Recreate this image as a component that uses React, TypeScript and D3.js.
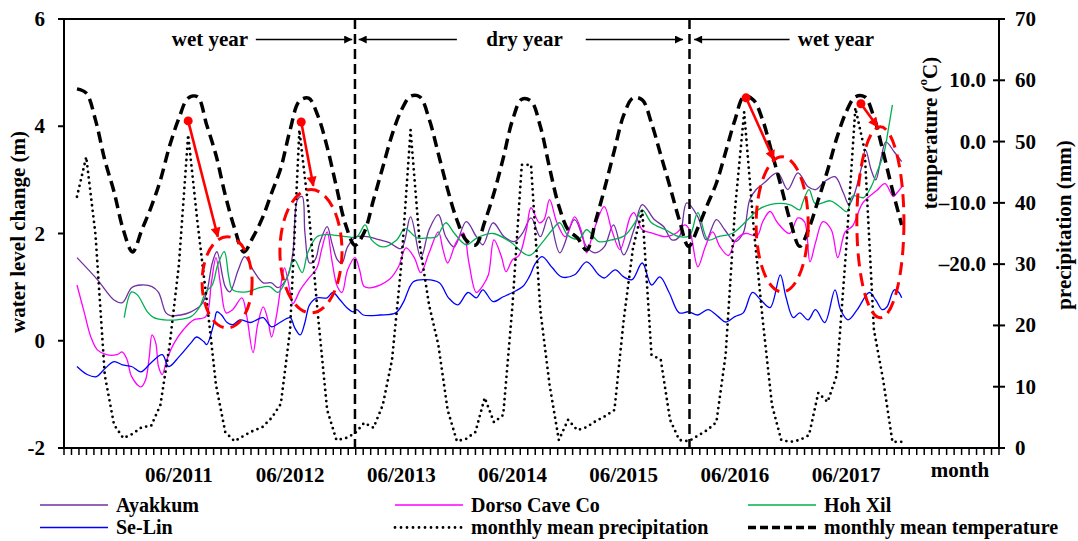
import React from "react";
import * as d3 from "d3";

const W = 1078;
const H = 541;
const M = { left: 64, right: 999, top: 19, bottom: 448 };
const FONT = '"Liberation Serif", "Times New Roman", serif';
const FS = 21;
const LEGEND_FS = 20;

// month index 0 = 07/2010
const monthLabels = ["06/2011", "06/2012", "06/2013", "06/2014", "06/2015", "06/2016", "06/2017"];
const monthLabelIdx = [11, 23, 35, 47, 59, 71, 83];
const levelTicks = [6, 4, 2, 0, -2];
const tempTicks = [10, 0, -10, -20];
const tempTickLabels = ["10.0", "0.0", "\u201310.0", "\u201320.0"];
const precipTicks = [0, 10, 20, 30, 40, 50, 60, 70];

const temperature = [
  8.6, 7.9, 3.5, -3.0, -8.2, -14.4, -18.0, -14.4, -10.7, -6.3,
  -0.7, 3.8, 7.1, 7.3, 2.7, -2.2, -8.7, -14.1, -18.0, -15.6,
  -12.5, -8.4, -4.3, 1.9, 6.6, 7.1, 4.2, -0.9, -7.4, -13.6,
  -16.9, -14.8, -9.5, -4.2, 1.1, 5.1, 7.4, 7.3, 3.7, -2.0,
  -7.8, -12.8, -16.1, -16.9, -13.1, -8.4, -2.7, 3.5, 6.9, 6.6,
  2.5, -4.3, -10.5, -14.4, -15.7, -17.7, -12.8, -7.3, -1.4, 4.3,
  7.1, 6.8, 3.0, -2.2, -7.4, -12.8, -17.1, -14.1, -10.4, -6.8,
  -1.7, 3.5, 7.4, 6.8, 3.5, -1.9, -7.4, -13.1, -17.1, -14.1,
  -9.5, -4.7, 0.6, 4.8, 7.3, 7.3, 4.0, -1.7, -7.9, -13.6,
];

const precipitation = [
  41.0, 47.5, 34.8, 11.9, 3.8, 1.6, 2.3, 3.4, 3.6, 7.0,
  16.8, 29.9, 51.1, 36.9, 24.1, 10.3, 2.6, 1.1, 2.0, 2.8,
  3.4, 4.9, 7.2, 19.3, 51.9, 38.8, 21.7, 6.2, 1.3, 1.6,
  2.4, 4.1, 3.3, 7.0, 14.4, 29.9, 51.9, 33.1, 23.3, 16.8,
  6.2, 1.1, 1.5, 2.6, 8.2, 4.2, 5.4, 23.3, 46.2, 46.2,
  22.5, 10.3, 1.3, 4.6, 2.9, 3.4, 4.4, 5.2, 6.2, 20.9,
  32.6, 38.8, 15.2, 14.4, 4.6, 1.3, 1.1, 2.0, 2.9, 4.2,
  15.2, 38.8, 54.8, 36.4, 20.9, 7.0, 1.3, 1.0, 1.3, 2.1,
  9.0, 7.5, 11.9, 32.3, 55.5, 48.6, 19.3, 11.1, 1.0, 1.0,
];

const ayakkumT = [0, 2.2, 4.0, 4.9, 5.9, 6.9, 8.1, 8.8, 9.6, 10.1, 11.2, 12.3, 13.4, 14.0, 14.6, 15.1, 16.0, 16.5, 17.4, 18.1, 19.0, 20.1, 21.0, 21.7, 22.7, 23.3, 23.8, 24.3, 24.6, 25.1, 25.7, 26.2, 27.0, 27.5, 28.1, 28.6, 29.2, 30.2, 31.3, 32.7, 33.7, 35.0, 36.0, 37.1, 38.0, 39.0, 39.8, 40.7, 42.0, 43.1, 43.8, 44.9, 46.1, 47.2, 48.1, 49.0, 50.0, 50.9, 52.1, 53.7, 55.0, 55.9, 56.9, 57.9, 59.0, 60.1, 61.0, 62.3, 63.3, 64.2, 65.0, 65.8, 67.0, 67.9, 69.0, 69.9, 71.0, 71.9, 72.6, 73.3, 74.2, 75.6, 76.7, 77.8, 78.9, 79.7, 80.7, 81.8, 82.7, 83.3, 83.8, 84.6, 85.1, 85.7, 86.2, 86.8, 87.3, 88.2, 89.0];
const ayakkumV = [1.55, 1.14, 0.76, 0.71, 0.99, 1.04, 1.01, 0.90, 0.52, 0.47, 0.48, 0.54, 0.67, 0.90, 1.45, 1.66, 1.01, 0.91, 1.32, 1.57, 1.32, 1.08, 1.08, 0.99, 1.19, 1.64, 2.63, 2.69, 2.01, 1.45, 1.51, 1.83, 2.13, 1.83, 1.51, 1.45, 1.75, 1.94, 1.94, 1.88, 1.83, 1.72, 2.31, 1.55, 2.07, 2.35, 1.94, 1.75, 2.22, 1.94, 1.79, 2.20, 1.94, 1.85, 2.01, 2.29, 1.94, 2.31, 1.64, 2.26, 1.75, 1.64, 1.75, 2.16, 1.60, 2.07, 2.54, 2.26, 2.13, 1.88, 1.94, 2.57, 2.31, 1.88, 2.26, 2.07, 1.85, 2.01, 2.63, 2.82, 2.95, 3.13, 2.82, 3.13, 2.87, 2.82, 2.97, 3.06, 2.76, 2.54, 2.69, 3.19, 3.56, 3.19, 3.00, 3.43, 3.71, 3.52, 3.34];

const hohXilT = [5.1, 5.9, 6.5, 7.6, 8.3, 9.4, 10.8, 12.3, 13.2, 13.9, 14.6, 15.2, 15.9, 16.4, 16.8, 18.3, 19.7, 20.8, 21.7, 22.7, 23.2, 23.5, 24.3, 24.9, 25.9, 27.0, 29.1, 30.2, 31.1, 31.8, 33.0, 34.5, 35.4, 36.7, 37.8, 38.8, 39.8, 40.7, 42.0, 43.2, 44.9, 46.7, 48.8, 50.2, 51.3, 52.1, 53.0, 54.2, 55.0, 56.3, 57.7, 59.1, 60.2, 61.0, 62.0, 63.5, 65.0, 66.1, 67.0, 68.1, 69.2, 70.8, 72.4, 73.5, 74.8, 76.9, 78.0, 78.3, 79.0, 79.7, 81.3, 82.3, 83.1, 83.7, 84.9, 85.7, 86.3, 87.1, 87.6, 88.0];
const hohXilV = [0.43, 0.91, 0.86, 0.54, 0.43, 0.39, 0.39, 0.45, 0.62, 0.91, 1.04, 1.42, 1.66, 1.17, 0.95, 0.91, 0.99, 1.01, 0.90, 1.19, 1.45, 1.51, 1.27, 1.64, 1.94, 1.98, 1.94, 1.94, 2.16, 1.88, 1.75, 1.88, 2.09, 1.92, 1.92, 1.94, 2.20, 2.01, 1.79, 1.92, 2.00, 1.85, 1.59, 1.83, 2.07, 2.20, 1.96, 1.90, 2.07, 1.85, 1.88, 1.96, 2.20, 2.44, 2.20, 2.07, 1.94, 1.96, 2.39, 1.88, 1.94, 2.01, 2.26, 2.44, 2.54, 2.54, 2.44, 2.57, 2.82, 2.55, 2.61, 2.50, 2.41, 2.70, 2.67, 2.87, 3.13, 3.51, 3.99, 4.40];

const dorsoT = [0, 0.8, 1.5, 2.2, 3.2, 4.3, 4.9, 5.4, 5.9, 6.9, 7.4, 7.8, 8.1, 8.5, 8.8, 9.2, 9.7, 10.5, 11.5, 12.6, 13.9, 14.5, 15.0, 15.5, 16.1, 16.8, 17.8, 18.3, 19.0, 19.5, 20.1, 20.6, 21.0, 21.6, 22.1, 22.4, 23.0, 23.3, 24.1, 24.9, 25.9, 26.4, 27.0, 27.5, 28.1, 28.6, 29.2, 30.0, 30.5, 31.0, 31.8, 33.7, 34.7, 35.5, 36.4, 37.1, 38.0, 39.0, 39.5, 40.0, 40.9, 41.7, 42.3, 43.1, 43.8, 44.4, 45.0, 45.8, 46.3, 47.0, 47.7, 48.5, 49.0, 49.9, 50.4, 51.0, 51.8, 52.7, 53.7, 54.5, 55.0, 55.8, 56.9, 57.7, 58.6, 59.7, 60.1, 61.0, 62.0, 63.5, 64.7, 65.6, 66.1, 67.0, 67.8, 68.6, 69.4, 70.3, 71.1, 72.1, 73.4, 74.0, 74.8, 75.6, 76.9, 77.8, 78.5, 79.1, 79.7, 80.5, 81.4, 82.1, 82.9, 83.7, 84.8, 86.3, 87.2, 88.1, 88.5, 89.0];
const dorsoV = [1.04, 0.52, 0.07, -0.17, -0.26, -0.26, -0.21, -0.35, -0.67, -0.86, -0.73, -0.30, 0.11, -0.04, -0.48, -0.63, -0.35, -0.04, 0.21, 0.39, 0.45, 1.08, 1.55, 1.04, 0.52, 0.58, 0.80, 0.48, -0.22, 0.30, 0.63, 0.39, 0.07, 0.54, 1.14, 1.36, 0.91, 0.69, 0.95, 1.14, 1.36, 1.70, 2.03, 1.51, 1.01, 0.90, 1.32, 1.55, 1.32, 1.01, 0.99, 1.14, 1.38, 1.73, 1.55, 1.27, 1.64, 2.03, 1.70, 1.45, 1.83, 2.01, 1.45, 0.90, 1.03, 1.23, 1.88, 1.57, 1.29, 1.51, 1.59, 2.07, 2.48, 2.20, 2.26, 2.63, 2.20, 1.94, 2.31, 2.01, 1.64, 2.07, 2.50, 2.07, 1.70, 2.31, 2.39, 2.07, 2.01, 1.94, 2.01, 2.16, 2.07, 1.38, 1.75, 2.03, 1.75, 1.59, 1.88, 2.00, 1.96, 2.22, 2.41, 2.20, 2.00, 2.29, 2.22, 1.47, 1.83, 2.22, 2.07, 1.55, 2.03, 2.14, 2.57, 2.80, 2.93, 2.69, 2.76, 2.87];

const seLinT = [0, 1.1, 2.1, 2.9, 4.0, 4.9, 5.9, 6.9, 8.0, 9.2, 9.9, 11.0, 12.3, 12.9, 13.7, 14.0, 14.8, 15.1, 15.6, 16.2, 16.8, 17.6, 18.7, 19.4, 20.1, 21.0, 21.9, 23.0, 23.5, 24.1, 24.6, 25.1, 25.9, 27.0, 27.6, 28.4, 29.1, 29.8, 30.2, 30.9, 32.7, 34.4, 35.2, 36.3, 37.7, 39.1, 40.1, 41.1, 42.2, 43.1, 43.8, 44.9, 46.0, 47.0, 48.1, 48.8, 49.5, 50.2, 51.3, 52.3, 53.7, 55.0, 56.3, 56.9, 58.1, 59.0, 59.9, 61.0, 62.0, 62.9, 63.9, 65.0, 66.0, 67.0, 68.1, 69.2, 70.0, 71.0, 71.9, 72.9, 73.8, 74.8, 75.9, 76.5, 77.3, 78.0, 78.9, 79.7, 80.7, 81.8, 82.4, 83.2, 84.2, 85.5, 86.2, 86.9, 87.4, 88.2, 88.7, 89.0];
const seLinV = [-0.48, -0.63, -0.67, -0.54, -0.39, -0.45, -0.48, -0.58, -0.41, -0.26, -0.48, -0.30, -0.04, 0.07, -0.02, -0.07, 0.34, 0.54, 0.48, 0.34, 0.30, 0.39, 0.34, 0.39, 0.43, 0.26, 0.34, 0.43, 0.24, 0.11, 0.34, 0.67, 0.80, 0.80, 0.90, 0.76, 0.62, 0.54, 0.58, 0.48, 0.48, 0.52, 0.71, 1.10, 1.14, 1.08, 0.80, 0.67, 0.90, 0.80, 0.95, 0.73, 0.82, 0.90, 1.01, 1.19, 1.45, 1.57, 1.36, 1.19, 1.23, 1.47, 1.23, 1.17, 1.32, 1.19, 1.14, 1.45, 1.04, 1.19, 0.90, 0.52, 0.54, 0.48, 0.58, 0.45, 0.35, 0.45, 0.52, 0.90, 0.76, 0.62, 1.23, 0.82, 0.43, 0.52, 0.39, 0.58, 0.34, 0.95, 0.58, 0.39, 0.58, 0.90, 0.76, 0.58, 0.63, 0.95, 0.90, 0.80];

// period dividers (month index) and period labels
const dividers = [30, 66.1];
const periodLabels = ["wet year", "dry year", "wet year"];
const periodLabelT = [14.35, 48.3, 81.9];
// arrows: [from, to(head)]
const periodArrows = [[19.3, 29.7], [41.0, 30.4], [54.9, 65.4], [76.9, 66.6]];

// red highlights: dot -> arrow tip, ellipse centre & radii (months, m)
const highlights = [
  { dotT: 12.0, dotV: 4.10, tipT: 15.2, tipV: 1.94, cT: 16.2, cV: 1.09, rT: 2.7, rV: 0.85 },
  { dotT: 24.2, dotV: 4.08, tipT: 25.5, tipV: 2.89, cT: 25.25, cV: 1.67, rT: 3.35, rV: 1.15 },
  { dotT: 72.2, dotV: 4.53, tipT: 75.2, tipV: 3.38, cT: 76.1, cV: 2.17, rT: 2.81, rV: 1.26 },
  { dotT: 84.6, dotV: 4.42, tipT: 86.4, tipV: 3.99, cT: 86.7, cV: 2.21, rT: 2.54, rV: 1.78 },
];

const zip = (t: number[], v: number[]) => t.map((d, i) => [d, v[i]] as [number, number]);

export default function App() {
  const x = d3.scaleLinear().domain([-1.4, 99.5]).range([M.left, M.right]);
  const yLevel = d3.scaleLinear().domain([-2, 6]).range([M.bottom, M.top]);
  const yPrecip = d3.scaleLinear().domain([0, 70]).range([M.bottom, M.top]);
  const yTemp = d3.scaleLinear().domain([-50, 20]).range([M.bottom, M.top]);
  const tickScale = d3.scaleLinear().domain([0, 125]).range([M.left, M.right]);

  const lakeLine = d3
    .line<[number, number]>()
    .x((d) => x(d[0]))
    .y((d) => yLevel(d[1]))
    .curve(d3.curveCatmullRom.alpha(0.5));

  const tempLine = d3
    .line<number>()
    .x((_, i) => x(i))
    .y((d) => yTemp(d))
    .curve(d3.curveCatmullRom.alpha(0.5));

  const precipLine = d3
    .line<number>()
    .x((_, i) => x(i))
    .y((d) => yPrecip(d));

  const lakes = [
    { name: "Ayakkum", color: "#7030A0", data: zip(ayakkumT, ayakkumV) },
    { name: "Dorso Cave Co", color: "#FF00FF", data: zip(dorsoT, dorsoV) },
    { name: "Hoh Xil", color: "#00B050", data: zip(hohXilT, hohXilV) },
    { name: "Se-Lin", color: "#0000FF", data: zip(seLinT, seLinV) },
  ];

  const legendCols = [40, 395, 748];
  const legendRows = [505, 527.5];
  const legendItems = [
    { label: "Ayakkum", kind: "lake", color: "#7030A0" },
    { label: "Dorso Cave Co", kind: "lake", color: "#FF00FF" },
    { label: "Hoh Xil", kind: "lake", color: "#00B050" },
    { label: "Se-Lin", kind: "lake", color: "#0000FF" },
    { label: "monthly mean precipitation", kind: "precip", color: "#000" },
    { label: "monthly mean temperature", kind: "temp", color: "#000" },
  ];

  const textStyle = { fontFamily: FONT, fontWeight: 700, fontSize: FS } as const;
  const legendStyle = { fontFamily: FONT, fontWeight: 700, fontSize: LEGEND_FS } as const;
  const labelY = M.top + 27;
  const arrowY = M.top + 20.5;

  return (
    <svg
      width={W}
      height={H}
      viewBox={`0 0 ${W} ${H}`}
      style={{ position: "absolute", left: 0, top: 0, background: "#fff" }}
    >
      <defs>
        <marker id="blackHead" viewBox="0 0 10 10" refX="10" refY="5" markerWidth="10" markerHeight="8" markerUnits="userSpaceOnUse" orient="auto">
          <path d="M0,0 L10,5 L0,10 z" fill="#000" />
        </marker>
        <marker id="redHead" viewBox="0 0 10 10" refX="9" refY="5" markerWidth="11" markerHeight="10" markerUnits="userSpaceOnUse" orient="auto">
          <path d="M0,0 L10,5 L0,10 z" fill="#FF0000" />
        </marker>
      </defs>
      <rect x={0} y={0} width={W} height={H} fill="#fff" />

      {/* lake series */}
      {lakes.map((l) => (
        <path key={l.name} d={lakeLine(l.data) || ""} fill="none" stroke={l.color} strokeWidth={1.3} />
      ))}

      {/* precipitation */}
      <path
        d={precipLine(precipitation) || ""}
        fill="none"
        stroke="#000"
        strokeWidth={2.8}
        strokeDasharray="0,5.6"
        strokeLinecap="round"
      />
      {/* temperature */}
      <path
        d={tempLine(temperature) || ""}
        fill="none"
        stroke="#000"
        strokeWidth={3.5}
        strokeDasharray="11,6"
      />

      {/* period dividers */}
      {dividers.map((t, i) => (
        <line key={i} x1={x(t)} x2={x(t)} y1={M.top} y2={M.bottom} stroke="#000" strokeWidth={2.5} strokeDasharray="10,5" />
      ))}
      {periodLabels.map((s, i) => (
        <text key={i} x={x(periodLabelT[i])} y={labelY} textAnchor="middle" style={textStyle}>
          {s}
        </text>
      ))}
      {periodArrows.map((a, i) => (
        <line key={i} x1={x(a[0])} x2={x(a[1])} y1={arrowY} y2={arrowY} stroke="#000" strokeWidth={1.6} markerEnd="url(#blackHead)" />
      ))}

      {/* red highlights */}
      {highlights.map((h, i) => (
        <g key={i}>
          <ellipse
            cx={x(h.cT)}
            cy={yLevel(h.cV)}
            rx={x(h.cT + h.rT) - x(h.cT)}
            ry={yLevel(h.cV) - yLevel(h.cV + h.rV)}
            fill="none"
            stroke="#FF0000"
            strokeWidth={3}
            strokeDasharray="13,7"
          />
          <line x1={x(h.dotT)} y1={yLevel(h.dotV)} x2={x(h.tipT)} y2={yLevel(h.tipV)} stroke="#FF0000" strokeWidth={2.6} markerEnd="url(#redHead)" />
          <circle cx={x(h.dotT)} cy={yLevel(h.dotV)} r={4.5} fill="#FF0000" />
        </g>
      ))}

      {/* frame */}
      <rect x={M.left} y={M.top} width={M.right - M.left} height={M.bottom - M.top} fill="none" stroke="#000" strokeWidth={2} />

      {/* left axis */}
      {levelTicks.map((v) => (
        <g key={v}>
          <line x1={M.left - 6} x2={M.left} y1={yLevel(v)} y2={yLevel(v)} stroke="#000" strokeWidth={2} />
          <text x={M.left - 19} y={yLevel(v) + 7} textAnchor="end" style={textStyle}>
            {v}
          </text>
        </g>
      ))}
      <text transform={`translate(18,232) rotate(-90)`} textAnchor="middle" dominantBaseline="central" style={textStyle}>
        water level change (m)
      </text>

      {/* bottom axis */}
      {d3.range(126).map((k) => (
        <line key={k} x1={tickScale(k)} x2={tickScale(k)} y1={M.bottom} y2={M.bottom + 7} stroke="#000" strokeWidth={1.5} />
      ))}
      {monthLabels.map((s, i) => (
        <text key={s} x={x(monthLabelIdx[i])} y={M.bottom + 34} textAnchor="middle" style={textStyle}>
          {s}
        </text>
      ))}
      <text x={960} y={M.bottom + 29} textAnchor="middle" style={textStyle}>
        month
      </text>

      {/* right axes */}
      {precipTicks.map((p) => (
        <g key={p}>
          <line x1={M.right - 6} x2={M.right + 6} y1={yPrecip(p)} y2={yPrecip(p)} stroke="#000" strokeWidth={2} />
          <text x={M.right + 16} y={yPrecip(p) + 7} textAnchor="start" style={textStyle}>
            {p}
          </text>
        </g>
      ))}
      {tempTicks.map((t, i) => (
        <text key={t} x={M.right - 13} y={yTemp(t) + 7} textAnchor="end" style={textStyle}>
          {tempTickLabels[i]}
        </text>
      ))}
      <text transform={`translate(930,133) rotate(-90)`} textAnchor="middle" dominantBaseline="central" style={textStyle}>
        temperature (<tspan baselineShift="super" fontSize={13}>o</tspan>C)
      </text>
      <text transform={`translate(1064,225) rotate(-90)`} textAnchor="middle" dominantBaseline="central" style={textStyle}>
        precipitation (mm)
      </text>

      {/* legend */}
      {legendItems.map((it, i) => {
        const cx = legendCols[i % 3];
        const cy = legendRows[Math.floor(i / 3)];
        const dash = it.kind === "precip" ? "0,6" : it.kind === "temp" ? "8,4" : undefined;
        const sw = it.kind === "precip" ? 2.8 : it.kind === "temp" ? 3.5 : 1.5;
        return (
          <g key={it.label}>
            <line
              x1={cx}
              x2={cx + 68}
              y1={cy}
              y2={cy}
              stroke={it.color}
              strokeWidth={sw}
              strokeDasharray={dash}
              strokeLinecap={it.kind === "precip" ? "round" : "butt"}
            />
            <text x={cx + 76} y={cy + 6.5} style={legendStyle}>
              {it.label}
            </text>
          </g>
        );
      })}
    </svg>
  );
}
